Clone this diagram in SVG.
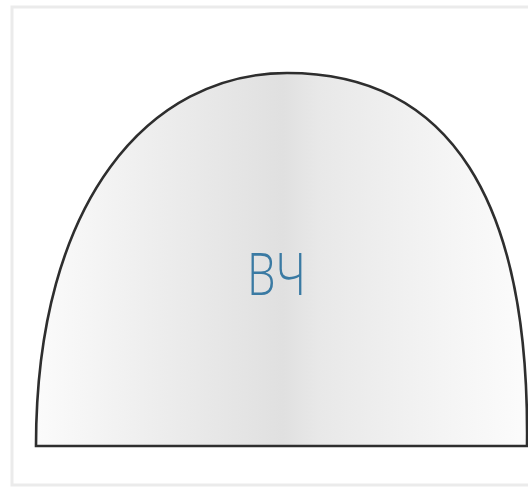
<svg xmlns="http://www.w3.org/2000/svg" width="528" height="488" viewBox="0 0 528 488">
  <style>
    .frame { fill: none; stroke: #ebebeb; stroke-width: 3; }
    .dome { fill: url(#shade); stroke: #2e2e2e; stroke-width: 2.6; stroke-linejoin: miter; }
    .label { font-family: "Open Sans", "Liberation Sans", sans-serif; font-weight: 300; font-size: 58px; fill: #3a7aa3; }
  </style>
  <defs>
    <linearGradient id="shade" x1="0" y1="0" x2="1" y2="0">
      <stop offset="0" stop-color="#fbfbfb"/>
      <stop offset="0.25" stop-color="#ededed"/>
      <stop offset="0.5" stop-color="#e0e0e0"/>
      <stop offset="0.57" stop-color="#e8e8e8"/>
      <stop offset="0.8" stop-color="#f3f3f3"/>
      <stop offset="1" stop-color="#fcfcfc"/>
    </linearGradient>
  </defs>
  <rect width="528" height="488" fill="#ffffff"/>
  <rect class="frame" x="12" y="7" width="530" height="478"/>
  <g id="dome">
    <path class="dome" d="M 36 446 C 36 200, 150 73, 287 73 C 450 73, 530 200, 527 446 L 530 446 L 36 446 Z"/>
    <text class="label" x="276.5" y="295" text-anchor="middle" textLength="59" lengthAdjust="spacingAndGlyphs">ВЧ</text>
  </g>
</svg>
